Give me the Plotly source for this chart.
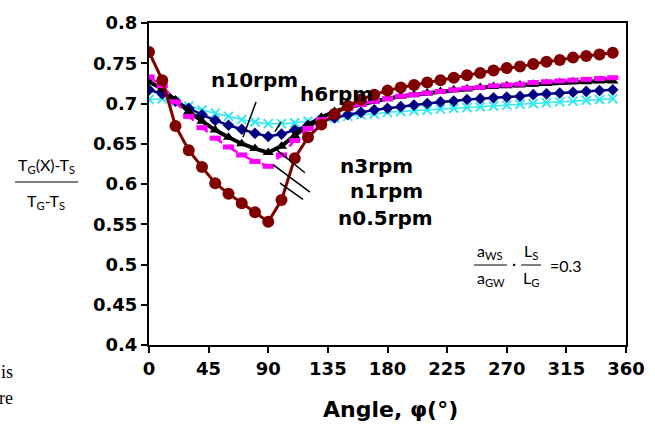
import plotly.graph_objects as go

angles = list(range(0, 360, 10))

red_n05 = [0.764, 0.729, 0.672, 0.642, 0.621, 0.601, 0.588, 0.576, 0.565, 0.553,
           0.580, 0.632, 0.658, 0.674, 0.687, 0.697, 0.705, 0.711, 0.716, 0.720,
           0.723, 0.726, 0.729, 0.732, 0.735, 0.738, 0.741, 0.744, 0.746, 0.749,
           0.752, 0.754, 0.757, 0.759, 0.761, 0.763]
magenta_n1 = [0.733, 0.722, 0.702, 0.684, 0.670, 0.657, 0.646, 0.636, 0.628, 0.622,
              0.636, 0.654, 0.669, 0.680, 0.688, 0.694, 0.699, 0.703, 0.706, 0.709,
              0.711, 0.713, 0.715, 0.717, 0.719, 0.720, 0.722, 0.723, 0.724, 0.726,
              0.727, 0.728, 0.729, 0.730, 0.731, 0.732]
black_n3 = [0.727, 0.718, 0.704, 0.690, 0.678, 0.667, 0.658, 0.650, 0.644, 0.639,
            0.647, 0.660, 0.673, 0.683, 0.690, 0.695, 0.699, 0.703, 0.706, 0.709,
            0.711, 0.713, 0.715, 0.717, 0.718, 0.720, 0.721, 0.722, 0.723, 0.724,
            0.725, 0.726, 0.727, 0.727, 0.728, 0.728]
navy_n10 = [0.717, 0.712, 0.703, 0.694, 0.686, 0.679, 0.673, 0.668, 0.663, 0.659,
            0.662, 0.667, 0.673, 0.678, 0.682, 0.686, 0.689, 0.692, 0.694, 0.696,
            0.698, 0.700, 0.702, 0.703, 0.705, 0.706, 0.707, 0.708, 0.709, 0.711,
            0.712, 0.713, 0.714, 0.715, 0.716, 0.717]
cyan_h6 = [0.705, 0.706, 0.702, 0.697, 0.692, 0.688, 0.684, 0.680, 0.677, 0.675,
           0.675, 0.676, 0.678, 0.680, 0.682, 0.684, 0.686, 0.687, 0.689, 0.690,
           0.691, 0.692, 0.693, 0.694, 0.695, 0.696, 0.697, 0.698, 0.699, 0.700,
           0.701, 0.702, 0.703, 0.704, 0.705, 0.706]

x_ticks = [0, 45, 90, 135, 180, 225, 270, 315, 360]
y_ticks = [0.4, 0.45, 0.5, 0.55, 0.6, 0.65, 0.7, 0.75, 0.8]

W, H = 655, 428
ML, MR, MT, MB = 149, 29, 23, 83
PW, PH = W - ML - MR, H - MT - MB

BOLD_FAM = "DejaVu Sans, Arial, sans-serif"


def px(x, y):
    return (x - ML) / PW, 1 - (y - MT) / PH


fig = go.Figure()

fig.add_trace(go.Scatter(x=angles, y=cyan_h6, mode="lines+markers",
                         line=dict(color="#33e8f0", width=1.5),
                         marker=dict(symbol="x-thin-open", size=9,
                                     line=dict(color="#20e0f0", width=2))))
fig.add_trace(go.Scatter(x=angles, y=navy_n10, mode="lines+markers",
                         line=dict(color="#000080", width=2.5),
                         marker=dict(symbol="diamond", size=9, color="#000080")))
fig.add_trace(go.Scatter(x=angles, y=black_n3, mode="lines+markers",
                         line=dict(color="black", width=4),
                         marker=dict(symbol="triangle-up", size=10, color="black")))
fig.add_trace(go.Scatter(x=angles, y=magenta_n1, mode="lines+markers",
                         line=dict(color="#ff00ff", width=2.5, dash="dash"),
                         marker=dict(symbol="line-ew-open", size=8,
                                     line=dict(color="#ff00ff", width=5))))
fig.add_trace(go.Scatter(x=angles, y=red_n05, mode="lines+markers",
                         line=dict(color="#800000", width=3),
                         marker=dict(symbol="circle", size=12, color="#800000")))

# leader lines (data coordinates)
leaders = [((80.8, 0.702), (70.9, 0.658)),
           ((99.6, 0.677), (95.1, 0.665)),
           ((96.6, 0.642), (117.7, 0.614)),
           ((93.6, 0.624), (121.5, 0.590)),
           ((98.9, 0.601), (116.2, 0.581))]
for (x0, y0), (x1, y1) in leaders:
    fig.add_shape(type="line", xref="x", yref="y", x0=x0, y0=y0, x1=x1, y1=y1,
                  line=dict(color="black", width=1.5))

bold = dict(family=BOLD_FAM, size=20, color="black")
labels = [("<b>n10rpm</b>", 254, 80), ("<b>h6rpm</b>", 336, 94),
          ("<b>n3rpm</b>", 376, 166), ("<b>n1rpm</b>", 386, 191),
          ("<b>n0.5rpm</b>", 385, 218)]
for t, x, y in labels:
    ax, ay = px(x, y)
    fig.add_annotation(text=t, xref="paper", yref="paper", x=ax, y=ay,
                       showarrow=False, font=bold, xanchor="center", yanchor="middle")

thin = dict(family="Lato, DejaVu Sans, sans-serif", size=16, color="black")
small = [("a<sub>WS</sub>", 490, 252), ("a<sub>GW</sub>", 491, 278), ("·", 514, 262),
         ("L<sub>S</sub>", 531, 252), ("L<sub>G</sub>", 531, 278), ("=0.3", 566, 265),
         ("T<sub>G</sub>(X)-T<sub>S</sub>", 46, 165), ("T<sub>G</sub>-T<sub>S</sub>", 46, 201)]
for t, x, y in small:
    ax, ay = px(x, y)
    fig.add_annotation(text=t, xref="paper", yref="paper", x=ax, y=ay,
                       showarrow=False, font=thin, xanchor="center", yanchor="middle")

for x0, x1, y in [(474, 507, 265), (521, 541, 265), (15, 78, 182)]:
    a0, b0 = px(x0, y)
    a1, _ = px(x1, y)
    fig.add_shape(type="line", xref="paper", yref="paper", x0=a0, y0=b0, x1=a1, y1=b0,
                  line=dict(color="black", width=1))

serif = dict(family="Liberation Serif, Times New Roman, serif", size=18, color="black")
for t, y in [("is", 372), ("re", 398)]:
    ax, ay = px(15, y)
    fig.add_annotation(text=t, xref="paper", yref="paper", x=ax, y=ay,
                       showarrow=False, font=serif, xanchor="right", yanchor="middle")

ax, ay = px(390, 409)
fig.add_annotation(text="<b>Angle, φ(°)</b>", xref="paper", yref="paper", x=ax, y=ay,
                   showarrow=False, font=dict(family=BOLD_FAM, size=22, color="black"),
                   xanchor="center", yanchor="middle")

fig.update_layout(
    width=W, height=H, margin=dict(l=ML, r=MR, t=MT, b=MB, autoexpand=False),
    paper_bgcolor="white", plot_bgcolor="white", showlegend=False,
    font=dict(family=BOLD_FAM, size=18, color="black"),
)
fig.update_xaxes(range=[0, 360], tickvals=x_ticks, ticktext=[f"<b>{v}</b>" for v in x_ticks],
                 automargin=False,
                 showgrid=False, zeroline=False, showline=True, linecolor="black",
                 linewidth=2, mirror=True, ticks="outside", ticklen=6, tickwidth=2,
                 tickcolor="black", tickfont=dict(family=BOLD_FAM, size=18))
fig.update_yaxes(range=[0.4, 0.8], tickvals=y_ticks,
                 ticktext=[f"<b>{v:g}</b>" for v in y_ticks], automargin=False,
                 showgrid=False, zeroline=False, showline=True, linecolor="black",
                 linewidth=2, mirror=True, ticks="outside", ticklen=6, tickwidth=2,
                 tickcolor="black", tickfont=dict(family=BOLD_FAM, size=18))

fig.write_html("out.html", config={"displayModeBar": False},
               post_script="document.body.style.margin='0';document.body.style.padding='0';")
